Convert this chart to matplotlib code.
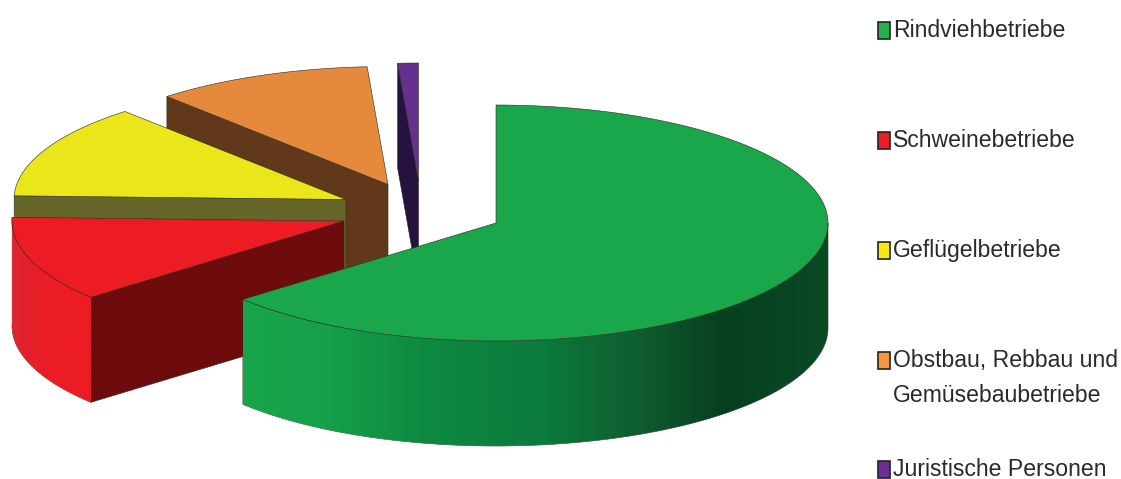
import numpy as np
import matplotlib
matplotlib.use('Agg')
import matplotlib.pyplot as plt
from matplotlib.patches import Polygon, Rectangle
from matplotlib.colors import LinearSegmentedColormap

# share of farms per type, percent
categories = ['Rindviehbetriebe', 'Schweinebetriebe', 'Geflügelbetriebe',
              'Obstbau, Rebbau und\nGemüsebaubetriebe', 'Juristische Personen']
shares = [63.8, 11.7, 12.9, 10.6, 1.0]

top_colors = ['#1aa64b', '#ed1c24', '#e9e619', '#e58a3c', '#66308f']
cut_colors = ['#0c5a2c', '#6e0c0d', '#66662a', '#62381a', '#26123f']
key_colors = ['#22b14c', '#ed1c24', '#f5ea0a', '#f7943c', '#6a3096']

# exploded centre of every slice
centres = [(496, 223), (344, 221), (346, 199.5), (388, 184.5), (418.5, 181)]
key_y = [30, 140, 250, 360, 469]

RX, RY = 332, 118
DEPTH = 105
EDGE = '#2a2a1a'


def rim(c, a0, a1, n=120):
    t = np.radians(np.linspace(a0, a1, n))
    return np.column_stack([c[0] + RX * np.cos(t), c[1] - RY * np.sin(t)])


green_side = LinearSegmentedColormap.from_list('g', [
    (0.00, '#18a54a'), (0.14, '#16a04a'), (0.30, '#0e8a42'), (0.50, '#0b7c3d'),
    (0.68, '#0f5c2e'), (0.82, '#06401f'), (1.00, '#0a4a25')])
red_side = LinearSegmentedColormap.from_list('r', ['#dc2430', '#ed1c24', '#ed1c24'])
side_maps = {0: green_side, 1: red_side}

fig = plt.figure(figsize=(11.21, 4.79), dpi=100)
ax = fig.add_axes([0, 0, 1, 1])
ax.axis('off')

# start at 12 o'clock and go clockwise, so later slices get smaller angles
ends = 450 - 3.6 * np.cumsum(shares)
starts = np.r_[450, ends[:-1]]

# back slices first, the big green one last
for i in [3, 4, 2, 1, 0]:
    c = centres[i]
    lo, hi = ends[i], starts[i]
    z = 20 - i * 3
    hi_pt = rim(c, hi, hi, 1)[0]

    # cut face at the high end of the slice
    face = [c, hi_pt, (hi_pt[0], hi_pt[1] + DEPTH), (c[0], c[1] + DEPTH)]
    ax.add_patch(Polygon(face, fc=cut_colors[i], ec=EDGE, lw=0.4, zorder=z))

    # outer wall, only the front half of the ellipse shows
    if i in side_maps:
        pts = rim(c, lo, 360 if i == 0 else hi)
        wall = Polygon(np.vstack([pts, pts[::-1] + [0, DEPTH]]), fc='none', ec=EDGE, lw=0.4, zorder=z)
        ax.add_patch(wall)
        x0, x1 = pts[:, 0].min(), pts[:, 0].max()
        shade = ax.imshow(np.linspace(0, 1, 256)[None, :], cmap=side_maps[i], aspect='auto',
                          extent=(x0, x1, pts[:, 1].max() + DEPTH, pts[:, 1].min()), zorder=z)
        shade.set_clip_path(wall)

    # top of the slice
    arc = rim(c, lo, hi)
    ax.add_patch(Polygon(np.vstack([c, arc]), fc=top_colors[i], ec=EDGE, lw=0.4, zorder=z + 1))

# key on the right
for name, col, y in zip(categories, key_colors, key_y):
    ax.add_patch(Rectangle((877.5, y - 8), 12.5, 16.5, fc=col, ec='#222222', lw=1.2))
    for k, line in enumerate(name.split('\n')):
        ax.text(893, y + 7 + k * 35, line, family='Liberation Sans', fontsize=16.6,
                color='#2a2a2a', va='baseline', ha='left')

ax.set_xlim(0, 1121)
ax.set_ylim(479, 0)

fig.savefig('out.png', dpi=100)
